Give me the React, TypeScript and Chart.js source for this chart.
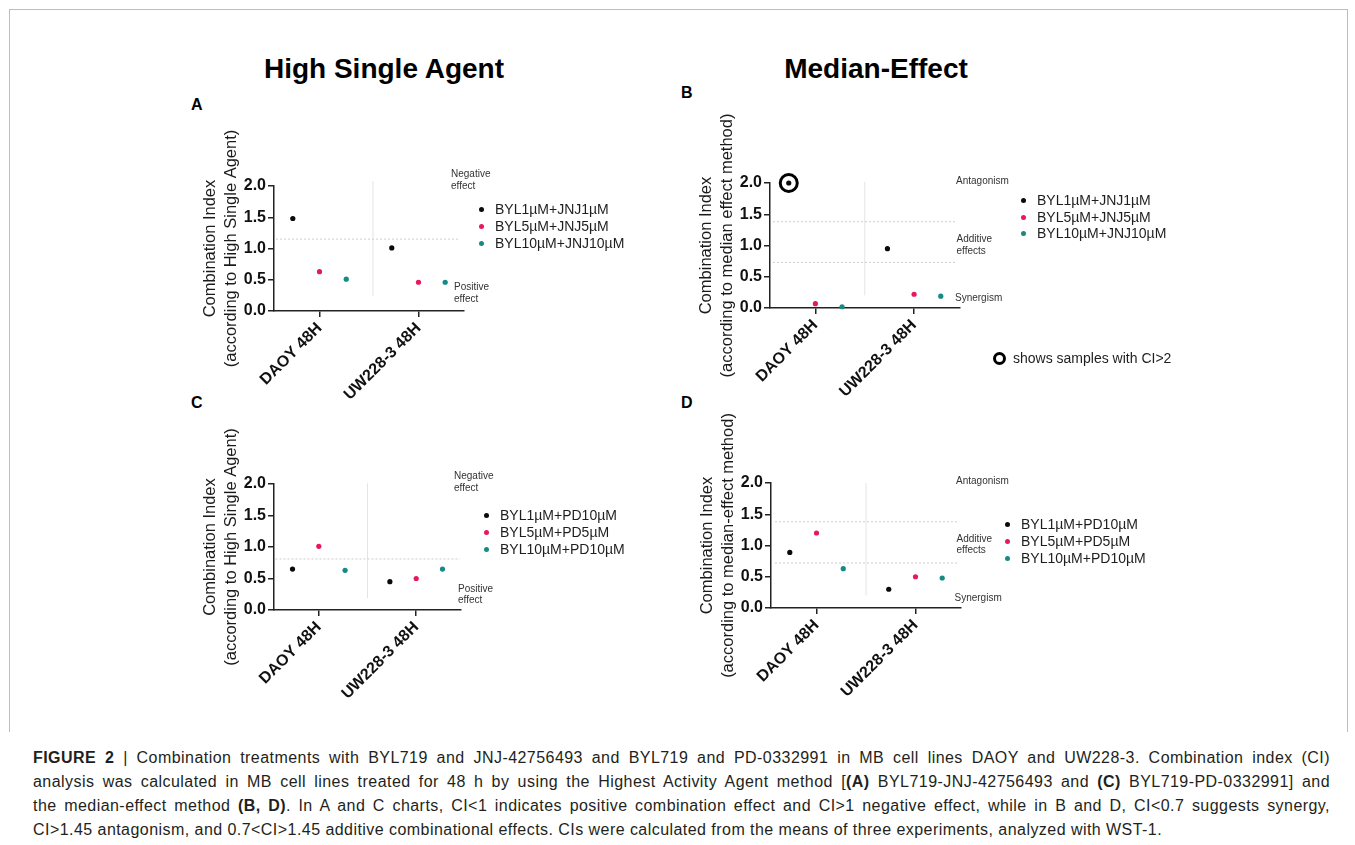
import React, { useEffect, useRef } from 'react';
import { Chart, registerables } from 'chart.js';

Chart.register(...registerables);

// ---------------- data ----------------
const CATEGORIES = ['DAOY 48H', 'UW228-3 48H'];
const Y_MIN = 0;
const Y_MAX = 2;
const Y_STEP = 0.5;

const JNJ_SERIES = ['BYL1µM+JNJ1µM', 'BYL5µM+JNJ5µM', 'BYL10µM+JNJ10µM'];
const PD_SERIES = ['BYL1µM+PD10µM', 'BYL5µM+PD5µM', 'BYL10µM+PD10µM'];

// Panel A – High Single Agent, BYL719 + JNJ
const A_BYL1 = [1.48, 1.01];
const A_BYL5 = [0.63, 0.46];
const A_BYL10 = [0.51, 0.46];
// Panel B – Median-Effect, BYL719 + JNJ (2.0 = shown capped, CI>2)
const B_BYL1 = [2.0, 0.95];
const B_BYL5 = [0.07, 0.22];
const B_BYL10 = [0.02, 0.19];
// Panel C – High Single Agent, BYL719 + PD
const C_BYL1 = [0.65, 0.45];
const C_BYL5 = [1.01, 0.5];
const C_BYL10 = [0.63, 0.65];
// Panel D – Median-Effect, BYL719 + PD
const D_BYL1 = [0.89, 0.3];
const D_BYL5 = [1.2, 0.5];
const D_BYL10 = [0.63, 0.48];

// reference (threshold) lines as drawn in each panel
const A_LINES = [1.15];
const B_LINES = [1.38, 0.73];
const C_LINES = [0.81];
const D_LINES = [1.38, 0.72];

const CAP_VALUE = 2.0; // samples at the cap are marked with a ring

// ---------------- styles ----------------
const FONT = "'Liberation Sans', Arial, Helvetica, sans-serif";
const COLORS = ['#0a0a0a', '#e8185e', '#168a85'];
const OFFSETS = [-0.27, 0, 0.27];
const Y_AXIS_W = 124;
const X_AXIS_H = 95;
const PAD_TOP = 100;
const PAD_RIGHT = 10;

type PanelCfg = {
  values: number[][];
  names: string[];
  yTitle: string[];
  hLines: number[];
  hFrom: number;
  hTo: number;
  vX: number;
  vFrom: number;
  vTo: number;
  ring: boolean;
  area: { left: number; top: number; right: number; bottom: number };
};

const PANELS: PanelCfg[] = [
  {
    values: [A_BYL1, A_BYL5, A_BYL10],
    names: JNJ_SERIES,
    yTitle: ['Combination Index', '(according to High Single Agent)'],
    hLines: A_LINES, hFrom: 0.56, hTo: 2.42,
    vX: 1.54, vFrom: 0.235, vTo: 2.08,
    ring: false,
    area: { left: 274, top: 186, right: 464, bottom: 311 },
  },
  {
    values: [B_BYL1, B_BYL5, B_BYL10],
    names: JNJ_SERIES,
    yTitle: ['Combination Index', '(according to median effect method)'],
    hLines: B_LINES, hFrom: 0.57, hTo: 2.42,
    vX: 1.5, vFrom: 0.2, vTo: 2.02,
    ring: true,
    area: { left: 770, top: 183, right: 961, bottom: 308 },
  },
  {
    values: [C_BYL1, C_BYL5, C_BYL10],
    names: PD_SERIES,
    yTitle: ['Combination Index', '(according to High Single Agent)'],
    hLines: C_LINES, hFrom: 0.555, hTo: 2.45,
    vX: 1.5, vFrom: 0.19, vTo: 2.01,
    ring: false,
    area: { left: 274, top: 484, right: 461, bottom: 610 },
  },
  {
    values: [D_BYL1, D_BYL5, D_BYL10],
    names: PD_SERIES,
    yTitle: ['Combination Index', '(according to median-effect method)'],
    hLines: D_LINES, hFrom: 0.58, hTo: 2.42,
    vX: 1.5, vFrom: 0.2, vTo: 2.0,
    ring: false,
    area: { left: 771, top: 483, right: 961, bottom: 608 },
  },
];

function Panel({ cfg }: { cfg: PanelCfg }) {
  const ref = useRef<HTMLCanvasElement>(null);
  const { area } = cfg;
  const w = area.right - area.left + Y_AXIS_W + PAD_RIGHT;
  const h = area.bottom - area.top + PAD_TOP + X_AXIS_H;

  useEffect(() => {
    if (!ref.current) return;
    const datasets: any[] = [];
    cfg.values.forEach((vals, si) => {
      datasets.push({
        label: cfg.names[si],
        data: vals.map((v, ci) => ({ x: ci + 1 + OFFSETS[si], y: v })),
        pointRadius: 2.6,
        pointHoverRadius: 2.6,
        pointBackgroundColor: COLORS[si],
        pointBorderColor: COLORS[si],
        pointBorderWidth: 0,
        showLine: false,
        clip: false,
      });
    });
    if (cfg.ring) {
      const ringPts: { x: number; y: number }[] = [];
      cfg.values.forEach((vals, si) =>
        vals.forEach((v, ci) => {
          if (v >= CAP_VALUE) ringPts.push({ x: ci + 1 + OFFSETS[si], y: v });
        })
      );
      datasets.push({
        label: 'ring',
        data: ringPts,
        pointRadius: 8.5,
        pointHoverRadius: 8.5,
        pointBackgroundColor: 'rgba(0,0,0,0)',
        pointBorderColor: '#000',
        pointBorderWidth: 3,
        showLine: false,
        clip: false,
      });
    }
    cfg.hLines.forEach((y) => {
      datasets.push({
        label: 'h',
        data: [{ x: cfg.hFrom, y }, { x: cfg.hTo, y }],
        showLine: true,
        borderColor: '#cdcdcd',
        borderWidth: 1,
        borderDash: [2, 2],
        pointRadius: 0,
        clip: false,
      });
    });
    datasets.push({
      label: 'v',
      data: [{ x: cfg.vX, y: cfg.vFrom }, { x: cfg.vX, y: cfg.vTo }],
      showLine: true,
      borderColor: '#e4e4e4',
      borderWidth: 1,
      pointRadius: 0,
      clip: false,
    });

    const tickFont = { family: FONT, size: 16, weight: 'bold' as const };
    const axisGrid = {
      display: true,
      drawOnChartArea: false,
      drawTicks: true,
      tickLength: 6,
      color: '#222',
      lineWidth: 1.5,
    };
    const chart = new Chart(ref.current, {
      type: 'scatter',
      data: { datasets },
      options: {
        animation: false,
        responsive: false,
        events: [],
        layout: { padding: { top: PAD_TOP, left: 0, right: PAD_RIGHT, bottom: 0 } },
        plugins: { legend: { display: false }, tooltip: { enabled: false } },
        scales: {
          x: {
            type: 'linear',
            min: 0.54,
            max: 2.46,
            afterBuildTicks: (s: any) => {
              s.ticks = CATEGORIES.map((_, i) => ({ value: i + 1 }));
            },
            afterFit: (s: any) => {
              s.height = X_AXIS_H;
            },
            ticks: {
              callback: (v: any) => CATEGORIES[Math.round(Number(v)) - 1] ?? '',
              minRotation: 45,
              maxRotation: 45,
              autoSkip: false,
              font: tickFont,
              color: '#111',
              padding: 2,
            },
            grid: axisGrid,
            border: { display: true, color: '#222', width: 1.5 },
          },
          y: {
            type: 'linear',
            min: Y_MIN,
            max: Y_MAX,
            afterFit: (s: any) => {
              s.width = Y_AXIS_W;
            },
            ticks: {
              stepSize: Y_STEP,
              callback: (v: any) => Number(v).toFixed(1),
              font: tickFont,
              color: '#111',
              padding: 2,
            },
            grid: axisGrid,
            border: { display: true, color: '#222', width: 1.5 },
            title: {
              display: true,
              text: cfg.yTitle,
              font: { family: FONT, size: 16.5, lineHeight: 1.3 },
              color: '#1a1a1a',
              padding: { top: 49.3, bottom: 0 },
            },
          },
        },
      } as any,
    });
    return () => chart.destroy();
  }, [cfg]);

  return (
    <canvas
      ref={ref}
      width={w}
      height={h}
      style={{
        position: 'absolute',
        left: area.left - Y_AXIS_W,
        top: area.top - PAD_TOP,
        width: w,
        height: h,
      }}
    />
  );
}

// ---------------- overlay helpers ----------------
function Txt({
  x, y, children, size, bold, color, align,
}: {
  x: number; y: number; children: React.ReactNode; size: number; bold?: boolean; color?: string; align?: 'left' | 'center';
}) {
  const lh = size * 1.2;
  return (
    <div
      style={{
        position: 'absolute',
        left: x,
        top: y - lh / 2,
        height: lh,
        lineHeight: `${lh}px`,
        fontSize: size,
        fontWeight: bold ? 700 : 400,
        color: color ?? '#111',
        whiteSpace: 'nowrap',
        transform: align === 'center' ? 'translateX(-50%)' : undefined,
        fontFamily: FONT,
      }}
    >
      {children}
    </div>
  );
}

function Legend({ names, dotX, textX, rows }: { names: string[]; dotX: number; textX: number; rows: number[] }) {
  return (
    <>
      {names.map((n, i) => (
        <React.Fragment key={n}>
          <div
            style={{
              position: 'absolute',
              left: dotX - 2.5,
              top: rows[i] - 2.5,
              width: 5,
              height: 5,
              borderRadius: '50%',
              background: COLORS[i],
            }}
          />
          <Txt x={textX} y={rows[i]} size={14} color="#1e1e1e">
            {n}
          </Txt>
        </React.Fragment>
      ))}
    </>
  );
}

const NOTE = 10;
const NOTE_C = '#333';

const CAPTION_LINES: [string, boolean][][] = [
  [
    ['FIGURE 2', true],
    [' | Combination treatments with BYL719 and JNJ-42756493 and BYL719 and PD-0332991 in MB cell lines DAOY and UW228-3. Combination index (CI)', false],
  ],
  [
    ['analysis was calculated in MB cell lines treated for 48 h by using the Highest Activity Agent method [', false],
    ['(A)', true],
    [' BYL719-JNJ-42756493 and ', false],
    ['(C)', true],
    [' BYL719-PD-0332991] and', false],
  ],
  [
    ['the median-effect method ', false],
    ['(B, D)', true],
    ['. In A and C charts, CI<1 indicates positive combination effect and CI>1 negative effect, while in B and D, CI<0.7 suggests synergy,', false],
  ],
  [
    ['CI>1.45 antagonism, and 0.7<CI>1.45 additive combinational effects. CIs were calculated from the means of three experiments, analyzed with WST-1.', false],
  ],
];
const CAPTION_Y = [758, 782, 806, 829.5];

export default function App() {
  return (
    <div
      style={{
        position: 'absolute',
        left: 0,
        top: 0,
        width: 1355,
        height: 845,
        background: '#fff',
        overflow: 'hidden',
        fontFamily: FONT,
      }}
    >
      {/* figure frame */}
      <div
        style={{
          position: 'absolute',
          left: 8.5,
          top: 8.5,
          width: 1337,
          height: 722,
          borderLeft: '1.5px solid #bdbdbd',
          borderTop: '1.5px solid #bdbdbd',
          borderRight: '1.5px solid #bdbdbd',
        }}
      />

      {/* titles */}
      <Txt x={384} y={69} size={28} bold align="center" color="#000">High Single Agent</Txt>
      <Txt x={876} y={69} size={28} bold align="center" color="#000">Median-Effect</Txt>

      {/* panel letters */}
      <Txt x={191} y={105} size={16} bold color="#000">A</Txt>
      <Txt x={681} y={93} size={16} bold color="#000">B</Txt>
      <Txt x={191} y={403} size={16} bold color="#000">C</Txt>
      <Txt x={681} y={403} size={16} bold color="#000">D</Txt>

      {PANELS.map((p, i) => (
        <Panel key={i} cfg={p} />
      ))}

      {/* panel A notes */}
      <Txt x={451} y={174} size={NOTE} color={NOTE_C}>Negative</Txt>
      <Txt x={451} y={185.5} size={NOTE} color={NOTE_C}>effect</Txt>
      <Txt x={454} y={287} size={NOTE} color={NOTE_C}>Positive</Txt>
      <Txt x={454} y={298.5} size={NOTE} color={NOTE_C}>effect</Txt>
      {/* panel B notes */}
      <Txt x={956} y={181} size={NOTE} color={NOTE_C}>Antagonism</Txt>
      <Txt x={956.5} y={238.5} size={NOTE} color={NOTE_C}>Additive</Txt>
      <Txt x={956.5} y={250.5} size={NOTE} color={NOTE_C}>effects</Txt>
      <Txt x={955} y={298} size={NOTE} color={NOTE_C}>Synergism</Txt>
      {/* panel C notes */}
      <Txt x={454} y={476} size={NOTE} color={NOTE_C}>Negative</Txt>
      <Txt x={454} y={487.5} size={NOTE} color={NOTE_C}>effect</Txt>
      <Txt x={458} y={588.5} size={NOTE} color={NOTE_C}>Positive</Txt>
      <Txt x={458} y={600} size={NOTE} color={NOTE_C}>effect</Txt>
      {/* panel D notes */}
      <Txt x={956} y={481} size={NOTE} color={NOTE_C}>Antagonism</Txt>
      <Txt x={956.5} y={538.5} size={NOTE} color={NOTE_C}>Additive</Txt>
      <Txt x={956.5} y={550} size={NOTE} color={NOTE_C}>effects</Txt>
      <Txt x={954.5} y={598} size={NOTE} color={NOTE_C}>Synergism</Txt>

      {/* legends */}
      <Legend names={JNJ_SERIES} dotX={481} textX={495} rows={[209.5, 226.5, 243.5]} />
      <Legend names={JNJ_SERIES} dotX={1023} textX={1037} rows={[200.5, 217, 233.5]} />
      <Legend names={PD_SERIES} dotX={486} textX={500} rows={[515.5, 532.5, 549.5]} />
      <Legend names={PD_SERIES} dotX={1007} textX={1021} rows={[524, 541.5, 558.5]} />

      {/* CI>2 ring legend */}
      <div
        style={{
          position: 'absolute',
          left: 999 - 6.5,
          top: 358.5 - 6.5,
          width: 7,
          height: 7,
          border: '3px solid #000',
          borderRadius: '50%',
        }}
      />
      <Txt x={1013} y={358.5} size={14} color="#1e1e1e">shows samples with CI&gt;2</Txt>

      {/* caption */}
      {CAPTION_LINES.map((segs, li) => (
        <div
          key={li}
          style={{
            position: 'absolute',
            left: 33,
            top: CAPTION_Y[li] - 12,
            width: 1297,
            height: 24,
            lineHeight: '24px',
            fontSize: 16,
            letterSpacing: '0.45px',
            color: '#231f20',
            whiteSpace: 'nowrap',
            textAlign: li < 3 ? 'justify' : 'left',
            textAlignLast: li < 3 ? 'justify' : 'left',
            fontFamily: FONT,
          }}
        >
          {segs.map(([t, b], si) => (
            <span key={si} style={{ fontWeight: b ? 700 : 400 }}>
              {t}
            </span>
          ))}
        </div>
      ))}
    </div>
  );
}
